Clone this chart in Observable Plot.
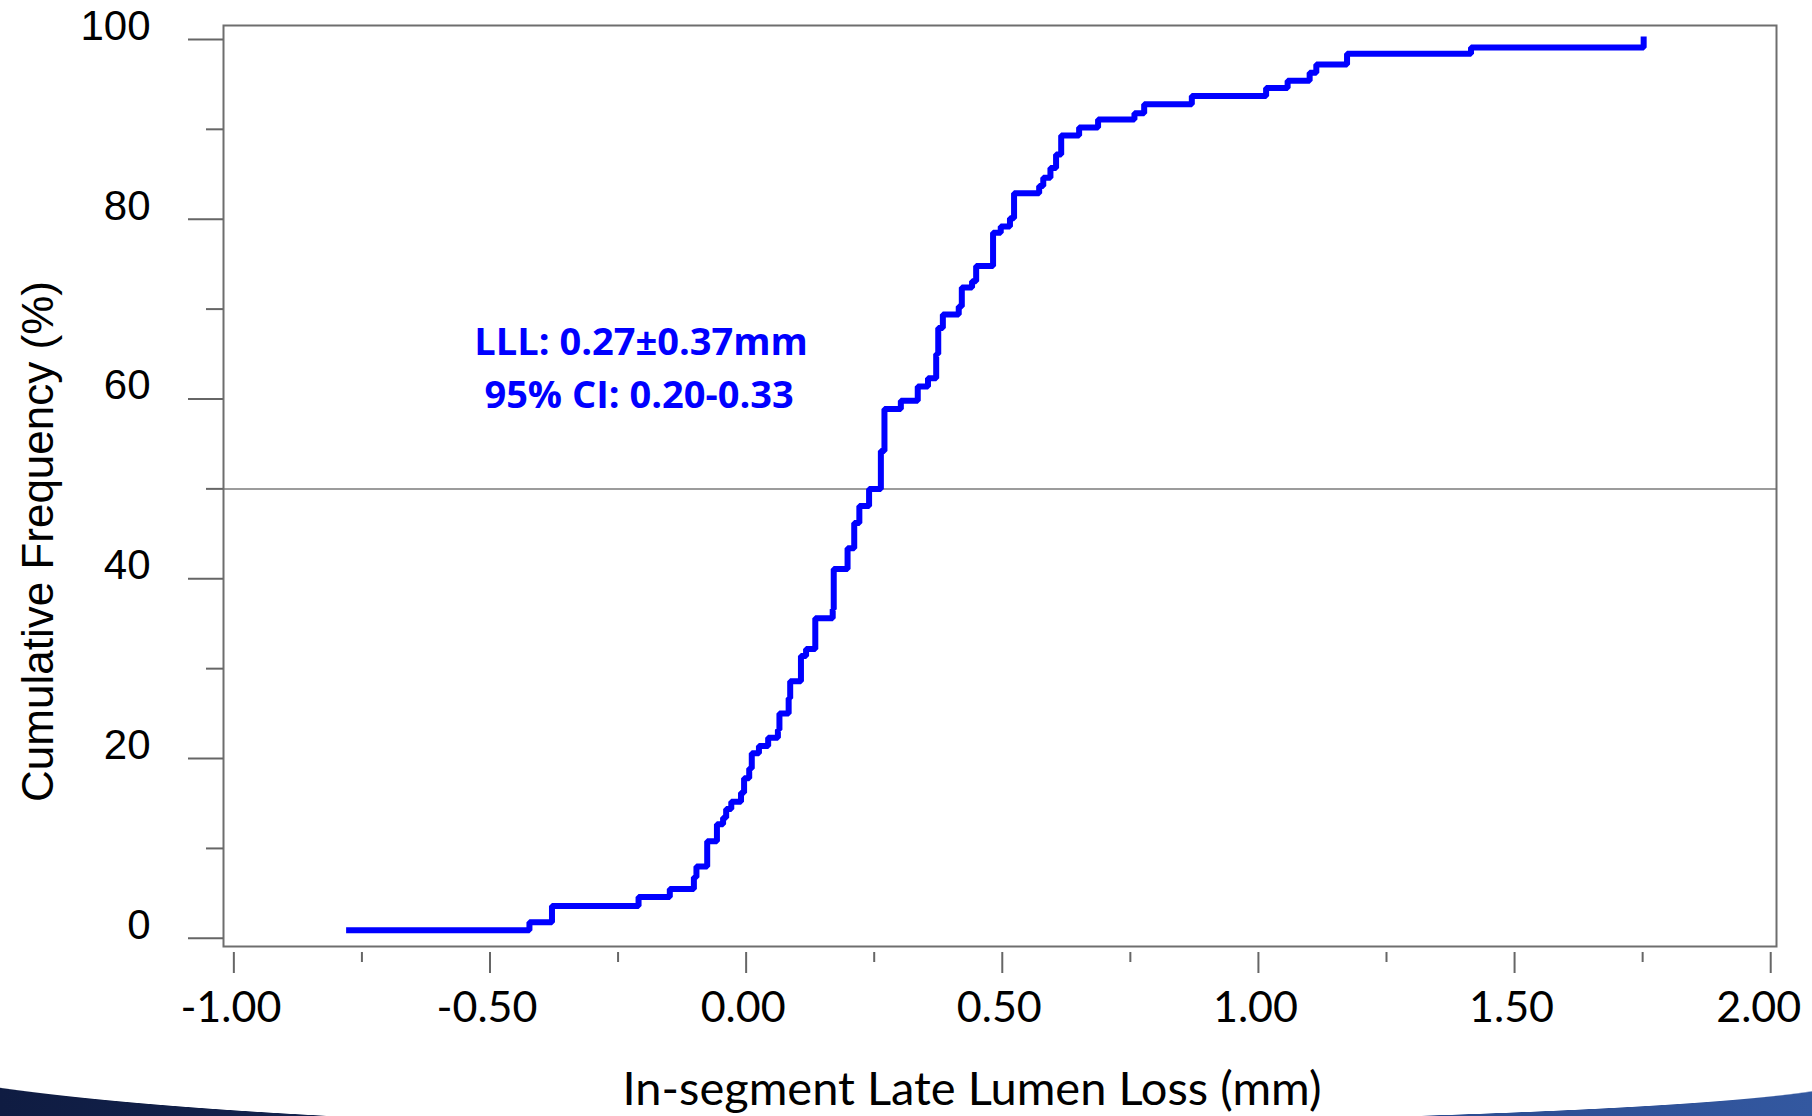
<!DOCTYPE html>
<html>
<head>
<meta charset="utf-8">
<script src="https://cdn.jsdelivr.net/npm/d3@7"></script>
<script src="https://cdn.jsdelivr.net/npm/@observablehq/plot@0.6"></script>
<style>
  html, body { margin: 0; padding: 0; background: #ffffff; }
  #wrap { position: relative; width: 1812px; height: 1116px; overflow: hidden; background: #ffffff; }
  #chart { position: absolute; left: 0; top: 0; }
  .swoosh { position: absolute; width: 906px; pointer-events: none; z-index: 2; }
  #swL { left: 0; top: 1046px; height: 70px;
    background: linear-gradient(90deg, #0f1c42, #1b2f63);
    -webkit-mask-image: radial-gradient(1000px 83px at 860px 0px, transparent 99.3%, #000 100%);
    mask-image: radial-gradient(1000px 83px at 860px 0px, transparent 99.3%, #000 100%); }
  #swR { left: 906px; top: 1078px; height: 38px;
    background: linear-gradient(90deg, #20397a, #3358a0);
    -webkit-mask-image: radial-gradient(1000px 46px at -46px 0px, transparent 99%, #000 100%);
    mask-image: radial-gradient(1000px 46px at -46px 0px, transparent 99%, #000 100%); }
</style>
</head>
<body>
<div id="wrap">
  <div id="chart"></div>
  <div class="swoosh" id="swL"></div>
  <div class="swoosh" id="swR"></div>
</div>
<script>
// In-segment late lumen loss (mm) at each step of the cumulative curve
const lossMm = [
  -0.775, -0.423, -0.379, -0.210, -0.149, -0.102, -0.097, -0.076, -0.057, -0.045,
  -0.039, -0.029, -0.010, -0.004, 0.006, 0.011, 0.025, 0.043, 0.062, 0.065,
  0.083, 0.086, 0.107, 0.117, 0.135, 0.169, 0.171, 0.198, 0.211, 0.221,
  0.240, 0.263, 0.270, 0.302, 0.335, 0.355, 0.371, 0.375, 0.384, 0.415,
  0.421, 0.441, 0.449, 0.482, 0.497, 0.515, 0.523, 0.572, 0.580, 0.594,
  0.605, 0.615, 0.650, 0.687, 0.758, 0.777, 0.870, 1.015, 1.057, 1.100,
  1.113, 1.173, 1.415, 1.752
];
// Cumulative frequency (%) reached at each step
const cumPct = [
  0.9, 1.8, 3.6, 4.6, 5.5, 6.8, 8.0, 10.8, 12.7, 13.4,
  14.4, 15.2, 16.2, 17.8, 18.9, 20.6, 21.4, 22.3, 23.2, 25.0,
  26.7, 28.6, 31.4, 32.2, 35.6, 36.6, 41.1, 43.4, 46.2, 48.1,
  50.0, 54.2, 58.9, 59.8, 61.4, 62.3, 65.0, 67.9, 69.4, 70.3,
  72.4, 73.1, 74.8, 78.5, 79.2, 80.1, 82.9, 83.7, 84.6, 85.7,
  87.2, 89.3, 90.2, 91.1, 91.8, 92.8, 93.7, 94.6, 95.4, 96.3,
  97.2, 98.4, 99.1, 100.0
];

const xMajorTicks = [-1, -0.5, 0, 0.5, 1, 1.5, 2];
const xMinorTicks = [-0.75, -0.25, 0.25, 0.75, 1.25, 1.75];
const yMajorTicks = [0, 20, 40, 60, 80, 100];
const yMinorTicks = [10, 30, 50, 70, 90];
const medianLine = [50];

const annotationLabels = ["LLL: 0.27\u00B10.37mm", "95% CI: 0.20-0.33"];
const annotationX = [-0.205, -0.209];
const annotationY = [66.2, 60.4];

const xTitle = "In-segment Late Lumen Loss (mm)";
const yTitle = "Cumulative Frequency (%)";

const curve = lossMm.map((x, i) => ({x, y: cumPct[i]}));
const notes = annotationLabels.map((label, i) => ({label, x: annotationX[i], y: annotationY[i]}));

const sansA = "'Liberation Sans', Arial, sans-serif";
const sansC = "Lato, 'Open Sans', sans-serif";
const axisGrey = "#666666";
const fmt2 = d => d.toFixed(2);

const chart = Plot.plot({
  width: 1812,
  height: 1116,
  marginLeft: 223,
  marginRight: 36,
  marginTop: 25,
  marginBottom: 170,
  x: {domain: [-1.0202, 2.0113]},
  y: {domain: [-0.91, 101.55]},
  style: {background: "transparent", color: "#000", overflow: "visible"},
  marks: [
    Plot.ruleY(medianLine, {stroke: "#9c9c9c", strokeWidth: 2}),
    Plot.line(curve, {x: "x", y: "y", curve: "step-after", stroke: "#0000ff", strokeWidth: 6,
      strokeLinejoin: "miter", strokeLinecap: "square"}),
    Plot.frame({stroke: "#6e6e6e", strokeWidth: 2}),
    // y axis: ticks, then labels raised above their ticks
    Plot.axisY(yMajorTicks, {tickSize: 35, text: null, stroke: axisGrey, strokeWidth: 2, label: null}),
    Plot.axisY(yMinorTicks, {tickSize: 17, text: null, stroke: axisGrey, strokeWidth: 2, label: null}),
    Plot.axisY(yMajorTicks, {tickSize: 0, tickPadding: 73, dy: -13, fill: "#000",
      fontSize: 42, fontFamily: sansA, label: null}),
    // x axis: ticks sit just below the frame
    Plot.axisX(xMajorTicks, {tickSize: 21, dy: 6, text: null, stroke: axisGrey, strokeWidth: 2, label: null}),
    Plot.axisX(xMinorTicks, {tickSize: 10, dy: 6, text: null, stroke: axisGrey, strokeWidth: 2, label: null}),
    Plot.axisX(xMajorTicks.slice(0, -1), {tickSize: 0, tickPadding: 39, dy: 6, dx: -3, fill: "#000",
      fontSize: 43, fontFamily: sansC, tickFormat: fmt2, label: null}),
    Plot.axisX(xMajorTicks.slice(-1), {tickSize: 0, tickPadding: 39, dy: 6, dx: -12, fill: "#000",
      fontSize: 43, fontFamily: sansC, tickFormat: fmt2, label: null}),
    Plot.text(notes, {x: "x", y: "y", text: "label", fill: "#0000ff", fontSize: 38, fontWeight: "bold",
      fontFamily: "'Open Sans', sans-serif", lineAnchor: "middle"}),
    Plot.text([xTitle], {frameAnchor: "bottom", textAnchor: "middle", dx: -28, dy: 125, lineAnchor: "top",
      fontSize: 47, fontFamily: sansC, fill: "#000"}),
    Plot.text([yTitle], {frameAnchor: "left", textAnchor: "middle", dx: -185, dy: 55.5, rotate: -90,
      lineAnchor: "middle", fontSize: 44, fontFamily: sansA, fill: "#000"})
  ]
});
document.getElementById("chart").appendChild(chart);
</script>
</body>
</html>
